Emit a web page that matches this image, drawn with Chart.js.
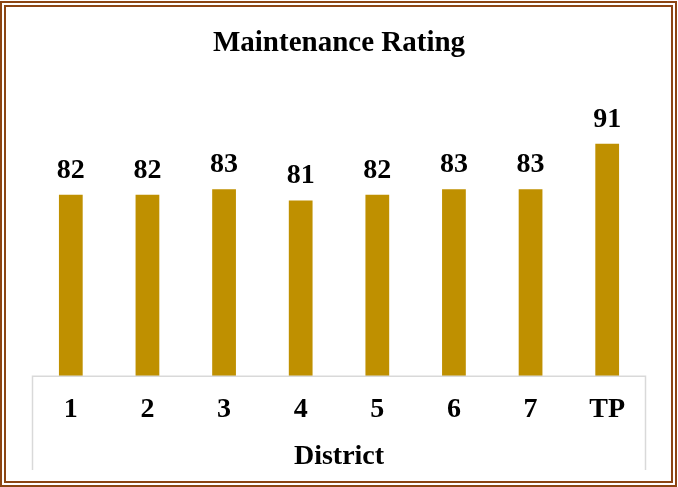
<!DOCTYPE html>
<html>
<head>
<meta charset="utf-8">
<script src="https://cdn.jsdelivr.net/npm/chart.js@4.4.1/dist/chart.umd.min.js"></script>
<style>
  body { margin: 0; background: #ffffff; }
  #wrap { position: relative; width: 678px; height: 487px; }
  #chart { position: absolute; left: 0; top: 0; }
  #frame {
    position: absolute; left: 0; top: 1px; width: 677px; height: 486px;
    box-sizing: border-box; border: 6px double #8B4513; pointer-events: none;
  }
</style>
</head>
<body>
<div id="wrap">
  <canvas id="chart" width="678" height="487"></canvas>
  <div id="frame"></div>
</div>
<script>
const districts = ['1', '2', '3', '4', '5', '6', '7', 'TP'];
const ratings = [82, 82, 83, 81, 82, 83, 83, 91];

const serif = "'Liberation Serif', 'Times New Roman', serif";

// value labels on top of each bar
const barLabels = {
  id: 'barLabels',
  afterDatasetsDraw(chart) {
    const ctx = chart.ctx;
    const meta = chart.getDatasetMeta(0);
    ctx.save();
    ctx.font = `bold 28px ${serif}`;
    ctx.fillStyle = '#000000';
    ctx.textAlign = 'center';
    ctx.textBaseline = 'alphabetic';
    meta.data.forEach((bar, i) => {
      ctx.fillText(String(ratings[i]), bar.x, bar.y - 17);
    });
    ctx.restore();
  },
};

// light grey box around the category axis
const axisBox = {
  id: 'axisBox',
  afterDraw(chart) {
    const { ctx, chartArea } = chart;
    ctx.save();
    ctx.strokeStyle = '#D9D9D9';
    ctx.lineWidth = 1.5;
    ctx.beginPath();
    ctx.moveTo(chartArea.left, 470);
    ctx.lineTo(chartArea.left, chartArea.bottom);
    ctx.lineTo(chartArea.right, chartArea.bottom);
    ctx.lineTo(chartArea.right, 470);
    ctx.stroke();
    ctx.restore();
  },
};

const ctx = document.getElementById('chart').getContext('2d');

new Chart(ctx, {
  type: 'bar',
  data: {
    labels: districts,
    datasets: [
      {
        label: 'Maintenance Rating',
        data: ratings,
        backgroundColor: '#BF9000',
        borderWidth: 0,
        categoryPercentage: 1,
        barPercentage: 0.31,
      },
    ],
  },
  options: {
    responsive: false,
    animation: false,
    layout: {
      padding: { top: 10, bottom: 13.6, left: 32.5, right: 32.5 },
    },
    plugins: {
      legend: { display: false },
      tooltip: { enabled: false },
      title: {
        display: true,
        text: 'Maintenance Rating',
        color: '#000000',
        font: { family: serif, size: 29, weight: 'bold' },
        padding: { top: 16, bottom: 32 },
      },
    },
    scales: {
      y: {
        display: false,
        min: 50,
        max: 100,
      },
      x: {
        grid: { display: false },
        border: { display: false },
        ticks: {
          color: '#000000',
          padding: 9,
          font: { family: serif, size: 28, weight: 'bold' },
        },
        title: {
          display: true,
          text: 'District',
          color: '#000000',
          font: { family: serif, size: 28, weight: 'bold' },
          padding: { top: 4, bottom: 0 },
        },
      },
    },
  },
  plugins: [barLabels, axisBox],
});
</script>
</body>
</html>
